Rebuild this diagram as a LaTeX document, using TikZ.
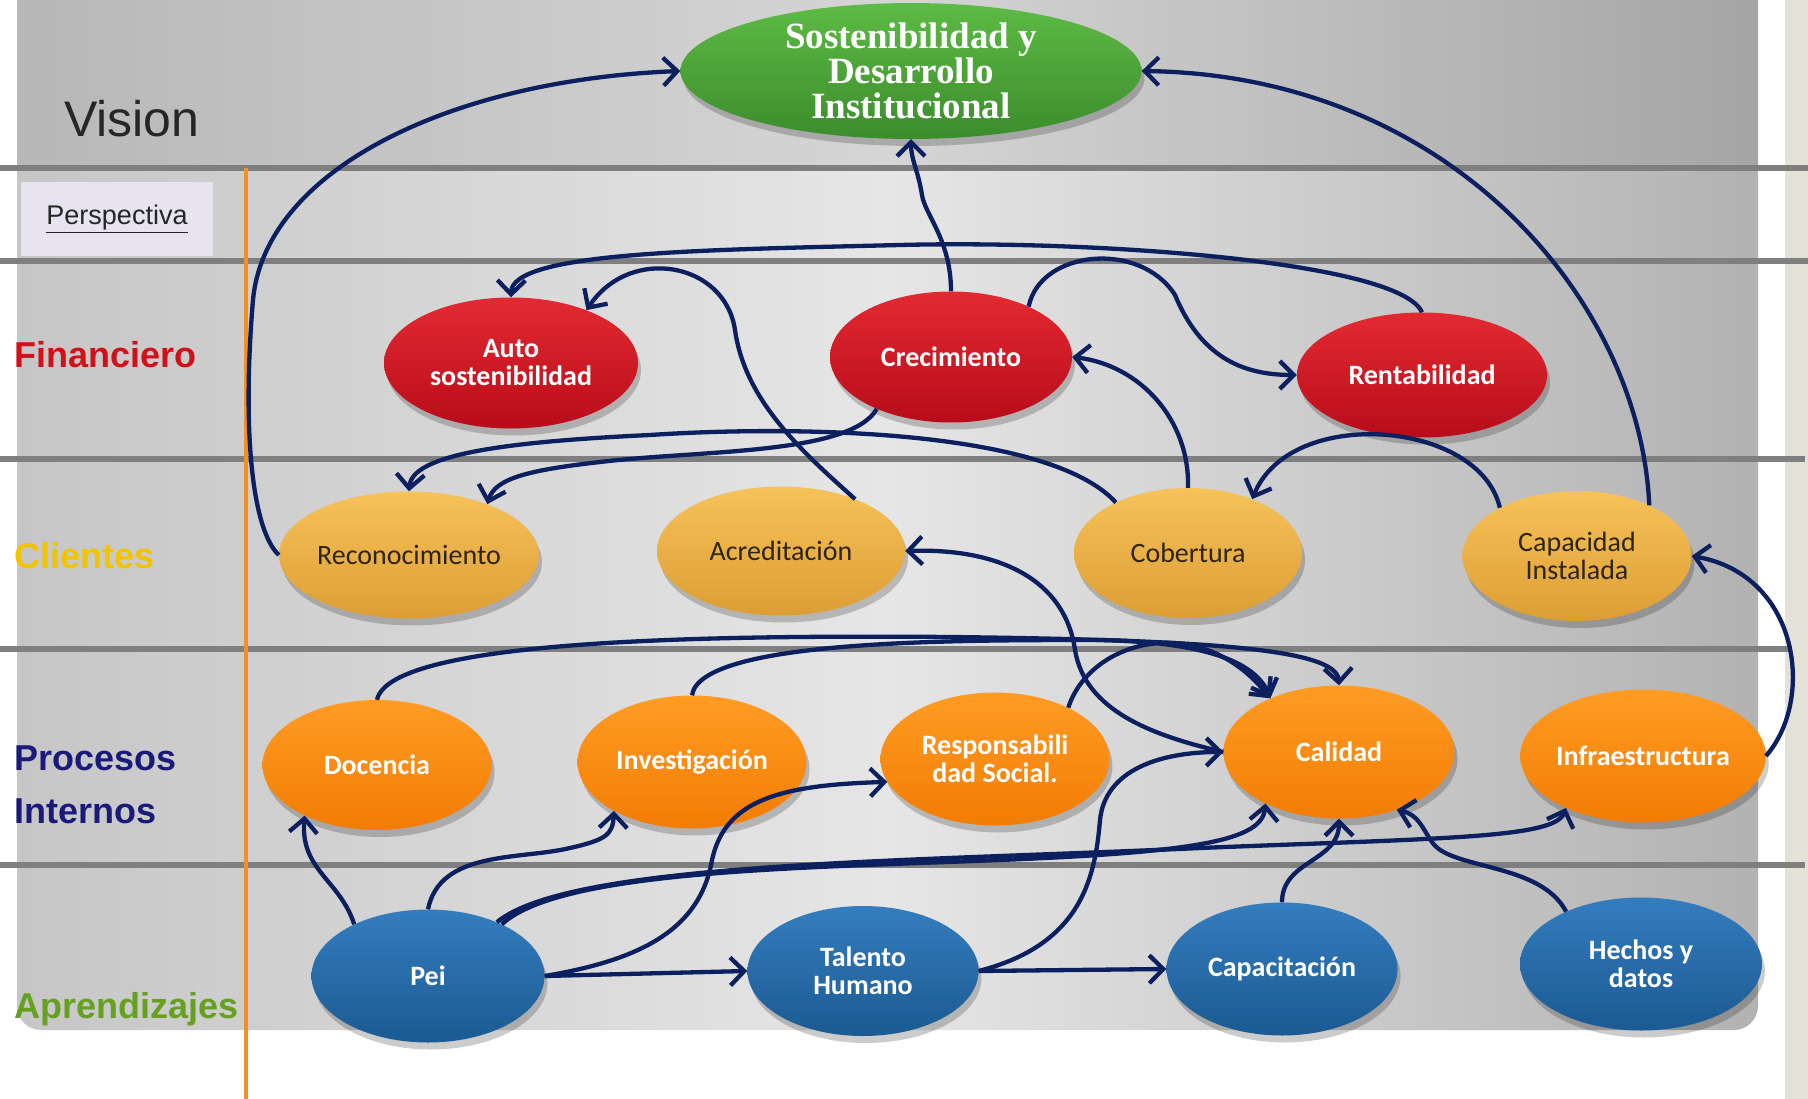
\documentclass[tikz,border=0pt]{standalone}
\usepackage{fontspec}
\setmainfont{Liberation Sans}
\newfontfamily\carl{Carlito}
\newfontfamily\libser{Liberation Serif}
\usetikzlibrary{arrows.meta,shapes.geometric,shadows}
\definecolor{navyc}{HTML}{0C1F5E}
\definecolor{gline}{HTML}{7F7F7F}
\definecolor{orline}{HTML}{F39020}
\definecolor{bgL}{HTML}{C6C6C6}
\definecolor{bgM}{HTML}{E6E6E6}
\definecolor{bgR}{HTML}{B2B2B2}
\definecolor{perbox}{HTML}{E7E3EF}
\definecolor{stripc}{HTML}{E4E2D8}
\definecolor{finred}{HTML}{D0101A}
\definecolor{cliyel}{HTML}{F2C400}
\definecolor{pronavy}{HTML}{1A1A7A}
\definecolor{aprgreen}{HTML}{66A020}
\definecolor{grT}{HTML}{5DBB45}
\definecolor{grB}{HTML}{3C8C2C}
\definecolor{rdT}{HTML}{E32A32}
\definecolor{rdB}{HTML}{B80C1A}
\definecolor{gdT}{HTML}{F6C25A}
\definecolor{gdB}{HTML}{DC9E34}
\definecolor{orT}{HTML}{FF9C24}
\definecolor{orB}{HTML}{F27C04}
\definecolor{blT}{HTML}{347DBE}
\definecolor{blB}{HTML}{1B5A92}
\definecolor{gdtext}{HTML}{2E2412}
\begin{document}
\begin{tikzpicture}[x=1pt,y=-1pt,
  bub/.style={ellipse, inner sep=0pt, align=center, minimum width=230pt, minimum height=131pt,
     drop shadow={shadow xshift=3pt, shadow yshift=-7pt, opacity=0.2, fill=black}},
  grnn/.style={bub, top color=grT, bottom color=grB, text=white, font=\libser\bfseries\fontsize{37}{35}\selectfont},
  redn/.style={bub, top color=rdT, bottom color=rdB, text=white, font=\carl\bfseries\fontsize{28}{28}\selectfont},
  gldn/.style={bub, top color=gdT, bottom color=gdB, text=gdtext, font=\carl\fontsize{28}{28}\selectfont},
  orgn/.style={bub, top color=orT, bottom color=orB, text=white, font=\carl\bfseries\fontsize{28}{28}\selectfont},
  blun/.style={bub, top color=blT, bottom color=blB, text=white, font=\carl\bfseries\fontsize{28}{28}\selectfont},
  conn/.style={draw=navyc, line width=4.3pt, -{Straight Barb[length=14pt,width=28pt]}},
  glin/.style={draw=gline, line width=6pt},
  rowlab/.style={anchor=west, inner sep=0pt, font=\bfseries\fontsize{36}{53}\selectfont, align=left},
]
\useasboundingbox (0,0) rectangle (1808,1099);
% background
\begin{scope}
\clip (0,0) rectangle (1808,1099);
\fill[white] (0,0) rectangle (1808,1099);
\shade[left color=bgL, right color=bgR, middle color=bgM, rounded corners=24pt] (17,-40) rectangle (1758,1030);
\fill[black, opacity=0.07] (17,0) rectangle (1758,168);
\fill[stripc] (1785,0) rectangle (1808,1099);
\end{scope}
% band lines
\draw[glin] (0,168) -- (1808,168);
\draw[glin] (0,261) -- (1808,261);
\draw[glin] (0,459) -- (1805,459);
\draw[glin] (0,649) -- (1792,649);
\draw[glin] (0,865) -- (1805,865);
\draw[draw=orline, line width=4pt] (246,168) -- (246,1099);
% row labels
\node[anchor=west, inner sep=0pt, text=black!85, font=\fontsize{50}{50}\selectfont] (lvis) at (64,119) {Vision};
\node[fill=perbox, minimum width=192pt, minimum height=74pt, inner sep=0pt, font=\fontsize{27}{27}\selectfont, text=black!85] (lper) at (117,219) {\underline{Perspectiva}};
\node[rowlab, text=finred] (lfin) at (14,355) {Financiero};
\node[rowlab, text=cliyel] (lcli) at (14,556) {Clientes};
\node[rowlab, text=pronavy] (lpro) at (14,785) {Procesos\\Internos};
\node[rowlab, text=aprgreen] (lapr) at (14,1009) {Aprendizajes};
% nodes
\node[grnn, minimum width=461pt, minimum height=133pt] (sost) at (911,71) {Sostenibilidad y\\Desarrollo\\Institucional};
\node[redn, minimum width=254pt] (auto) at (511,363) {Auto\\sostenibilidad};
\node[redn, minimum width=242pt] (crec) at (951,357) {Crecimiento};
\node[redn, minimum width=250pt, minimum height=125pt] (rent) at (1422,375) {Rentabilidad};
\node[gldn, minimum width=231pt, minimum height=127pt] (reco) at (409,555) {Reconocimiento};
\node[gldn, minimum width=248pt, minimum height=129pt] (acred) at (781,551) {Acreditación};
\node[gldn, minimum width=228pt, minimum height=130pt] (cob) at (1188,553) {Cobertura};
\node[gldn, minimum width=229pt, minimum height=130pt] (cap) at (1577,556) {Capacidad\\Instalada};
\node[orgn, minimum width=229pt, minimum height=130pt] (doc) at (377,765) {Docencia};
\node[orgn, minimum width=229pt, minimum height=133pt] (inv) at (692,762) {Investigación};
\node[orgn, minimum width=229pt, minimum height=133pt] (resp) at (995,759) {Responsabili\\dad Social.};
\node[orgn, minimum width=231pt, minimum height=133pt] (cal) at (1339,752) {Calidad};
\node[orgn, minimum width=229pt, minimum height=133pt] (infra) at (1643,756) {Infraestructura};
\node[blun, minimum width=233pt, minimum height=133pt] (pei) at (428,976) {Pei};
\node[blun, minimum width=231pt, minimum height=130pt] (tal) at (863,971) {Talento\\Humano};
\node[blun, minimum width=231pt, minimum height=133pt] (capac) at (1282,969) {Capacitación};
\node[blun, minimum width=242pt, minimum height=133pt] (hech) at (1641,964) {Hechos y\\datos};
% connectors
\draw[conn] (reco.west) .. controls (252,530) and (242,430) .. (253,300) .. controls (265,170) and (450,80) .. (sost.west);
\draw[conn] (crec.north) .. controls (951,240) and (925,215) .. (922,195) .. controls (918,170) and (911,160) .. (sost.south);
\draw[conn] (cap.35) .. controls (1640,300) and (1450,75) .. (sost.east);
\draw[conn] (rent.north) .. controls (1400,262) and (1100,240) .. (900,245) .. controls (700,250) and (512,252) .. (auto.north);
\draw[conn] (acred.35) .. controls (800,450) and (745,400) .. (735,330) .. controls (725,262) and (630,245) .. (auto.35);
\draw[conn] (crec.33) .. controls (1040,250) and (1140,240) .. (1175,295) .. controls (1200,355) and (1240,375) .. (rent.west);
\draw[conn] (cob.north) .. controls (1190,420) and (1140,365) .. (crec.east);
\draw[conn] (cap.148) .. controls (1480,420) and (1290,405) .. (cob.40);
\draw[conn] (crec.215) .. controls (850,455) and (700,450) .. (600,462) .. controls (530,470) and (495,478) .. (reco.33);
\draw[conn] (cob.145) .. controls (1050,430) and (800,425) .. (650,435) .. controls (500,442) and (412,455) .. (reco.north);
\draw[conn] (cal.west) .. controls (1150,735) and (1085,710) .. (1075,650) .. controls (1065,580) and (1000,548) .. (acred.east);
\draw[conn] (tal.east) .. controls (1080,945) and (1095,880) .. (1100,820) .. controls (1105,770) and (1160,752) .. (cal.west);
\draw[conn] (tal.east) -- (capac.west);
\draw[conn] (pei.east) -- (tal.west);
\draw[conn] (pei.east) .. controls (640,960) and (700,930) .. (712,860) .. controls (725,800) and (780,785) .. (resp.192);
\draw[conn] (pei.145) .. controls (340,880) and (300,870) .. (doc.215);
\draw[conn] (pei.north) .. controls (440,850) and (520,860) .. (570,848) .. controls (605,840) and (613,835) .. (inv.212);
\draw[conn] (pei.35) .. controls (560,870) and (800,868) .. (1000,860) .. controls (1200,852) and (1262,840) .. (cal.215);
\draw[conn] (pei.38) .. controls (570,862) and (900,862) .. (1200,848) .. controls (1450,838) and (1555,838) .. (infra.214);
\draw[conn] (doc.north) .. controls (390,640) and (700,635) .. (950,637) .. controls (1200,640) and (1337,648) .. (cal.north);
\draw[conn] (inv.north) .. controls (700,640) and (950,640) .. (1100,640) .. controls (1200,642) and (1255,660) .. (cal.142);
\draw[conn] (resp.35) .. controls (1090,640) and (1200,610) .. (cal.142);
\draw[conn] (capac.north) .. controls (1282,860) and (1339,862) .. (cal.south);
\draw[conn] (hech.145) .. controls (1540,862) and (1450,870) .. (1432,842) .. controls (1422,828) and (1419,815) .. (cal.315);
\draw[conn] (infra.east) .. controls (1815,700) and (1800,575) .. (cap.east);
\end{tikzpicture}
\end{document}
